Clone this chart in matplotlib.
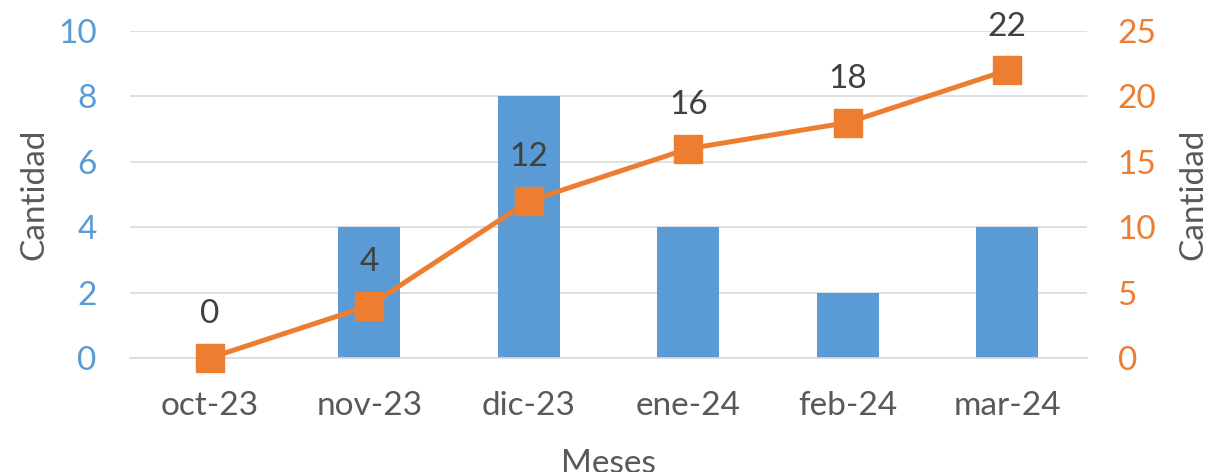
import matplotlib.pyplot as plt

meses = ['oct-23', 'nov-23', 'dic-23', 'ene-24', 'feb-24', 'mar-24']
cantidad_mes = [0, 4, 8, 4, 2, 4]
cantidad_acum = [0, 4, 12, 16, 18, 22]

azul = '#5B9BD5'
naranja = '#ED7D31'
gris = '#595959'
fs = 24

plt.rcParams['font.family'] = ['Lato', 'DejaVu Sans']

fig = plt.figure(figsize=(12.11, 4.72), dpi=100)
ax = fig.add_axes([0.1073, 0.2415, 0.7903, 0.6928])
ax2 = ax.twinx()

x = range(len(meses))
ax.bar(x, cantidad_mes, width=0.39, color=azul, zorder=2)
ax.set_xlim(-0.5, 5.5)
ax.set_ylim(0, 10)
ax.set_yticks(range(0, 11, 2))
ax.yaxis.grid(True, color='#D9D9D9', linewidth=1.2, zorder=0)
ax.set_axisbelow(True)
ax.tick_params(axis='y', colors=azul, labelsize=fs, length=0, pad=24)
ax.tick_params(axis='x', colors=gris, labelsize=fs, length=0, pad=24)
ax.set_xticks(list(x))
ax.set_xticklabels(meses)
ax.set_ylabel('Cantidad', fontsize=fs, color=gris, labelpad=6)
ax.set_xlabel('Meses', fontsize=fs, color=gris, labelpad=20)
for s in ['top', 'left', 'right']:
    ax.spines[s].set_visible(False)
ax.spines['bottom'].set_color('#D9D9D9')
ax.spines['bottom'].set_linewidth(1.2)

ax2.plot(x, cantidad_acum, color=naranja, linewidth=3.6, marker='s',
         markersize=20, zorder=3, clip_on=False)
for i, v in zip(x, cantidad_acum):
    ax2.annotate(str(v), (i, v), xytext=(0, 25), textcoords='offset points',
                 ha='center', va='baseline', fontsize=fs, color='#404040')
ax2.set_ylim(0, 25)
ax2.set_yticks(range(0, 26, 5))
ax2.tick_params(axis='y', colors=naranja, labelsize=fs, length=0, pad=22)
ax2.set_ylabel('Cantidad', fontsize=fs, color=gris, labelpad=16)
for s in ax2.spines.values():
    s.set_visible(False)

fig.savefig('out.png', dpi=100)
